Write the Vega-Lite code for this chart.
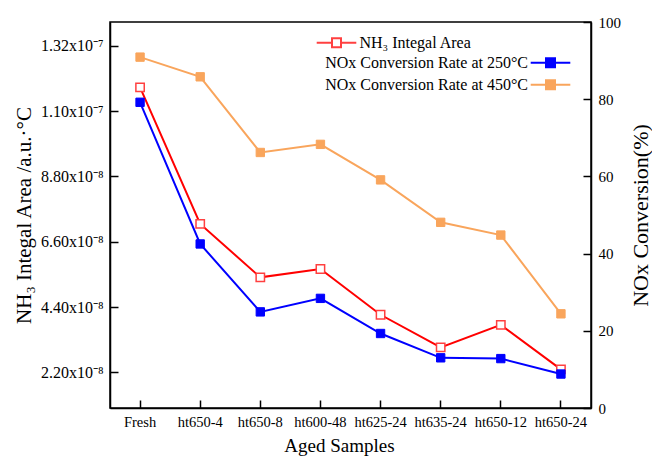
{
  "$schema": "https://vega.github.io/schema/vega-lite/v6.json",
  "width": 481,
  "height": 386,
  "autosize": {"type": "none"},
  "padding": {"left": 110, "top": 22, "right": 61, "bottom": 53},
  "background": "white",
  "config": {
    "font": "Liberation Serif",
    "view": {"stroke": "black", "strokeWidth": 1.5},
    "axis": {
      "domainColor": "black", "domainWidth": 1.5, "tickColor": "black", "tickWidth": 1.5,
      "labelColor": "black", "titleColor": "black", "grid": false,
      "labelFont": "Liberation Serif", "titleFont": "Liberation Serif", "titleFontWeight": "normal"
    },
    "legend": {"labelFont": "Liberation Serif", "labelColor": "black"}
  },
  "data": {
    "values": [
      {"sample": "Fresh", "series": "NH₃ Integal Area", "value": 1.18e-7},
      {"sample": "ht650-4", "series": "NH₃ Integal Area", "value": 7.20e-8},
      {"sample": "ht650-8", "series": "NH₃ Integal Area", "value": 5.40e-8},
      {"sample": "ht600-48", "series": "NH₃ Integal Area", "value": 5.68e-8},
      {"sample": "ht625-24", "series": "NH₃ Integal Area", "value": 4.14e-8},
      {"sample": "ht635-24", "series": "NH₃ Integal Area", "value": 3.04e-8},
      {"sample": "ht650-12", "series": "NH₃ Integal Area", "value": 3.80e-8},
      {"sample": "ht650-24", "series": "NH₃ Integal Area", "value": 2.30e-8},
      {"sample": "Fresh", "series": "NOx Conversion Rate at 250°C", "value": 79.2},
      {"sample": "ht650-4", "series": "NOx Conversion Rate at 250°C", "value": 42.5},
      {"sample": "ht650-8", "series": "NOx Conversion Rate at 250°C", "value": 24.9},
      {"sample": "ht600-48", "series": "NOx Conversion Rate at 250°C", "value": 28.4},
      {"sample": "ht625-24", "series": "NOx Conversion Rate at 250°C", "value": 19.3},
      {"sample": "ht635-24", "series": "NOx Conversion Rate at 250°C", "value": 13.0},
      {"sample": "ht650-12", "series": "NOx Conversion Rate at 250°C", "value": 12.8},
      {"sample": "ht650-24", "series": "NOx Conversion Rate at 250°C", "value": 8.8},
      {"sample": "Fresh", "series": "NOx Conversion Rate at 450°C", "value": 90.9},
      {"sample": "ht650-4", "series": "NOx Conversion Rate at 450°C", "value": 85.8},
      {"sample": "ht650-8", "series": "NOx Conversion Rate at 450°C", "value": 66.2},
      {"sample": "ht600-48", "series": "NOx Conversion Rate at 450°C", "value": 68.3},
      {"sample": "ht625-24", "series": "NOx Conversion Rate at 450°C", "value": 59.1},
      {"sample": "ht635-24", "series": "NOx Conversion Rate at 450°C", "value": 48.1},
      {"sample": "ht650-12", "series": "NOx Conversion Rate at 450°C", "value": 44.8},
      {"sample": "ht650-24", "series": "NOx Conversion Rate at 450°C", "value": 24.4}
    ]
  },
  "resolve": {
    "scale": {"y": "independent", "color": "independent", "stroke": "independent"}
  },
  "layer": [
    {
      "transform": [{"filter": "datum.series === 'NH₃ Integal Area'"}],
      "layer": [
        {
          "mark": {"type": "line", "strokeWidth": 2, "stroke": "#ff0000"},
          "encoding": {
            "x": {
              "field": "sample", "type": "nominal", "bandPosition": 0.5,
              "sort": ["Fresh", "ht650-4", "ht650-8", "ht600-48", "ht625-24", "ht635-24", "ht650-12", "ht650-24"],
              "scale": {"type": "band", "paddingInner": 0, "paddingOuter": 0},
              "axis": {
                "orient": "bottom", "title": "Aged Samples", "titleFontSize": 19, "titlePadding": 8, "titleX": 229,
                "labelAngle": 0, "labelFontSize": 14.5, "labelPadding": 15, "tickSize": -8
              }
            },
            "y": {
              "field": "value", "type": "quantitative",
              "scale": {"domain": [1e-8, 1.4e-7], "nice": false, "zero": false},
              "axis": {
                "orient": "left",
                "values": [2.2e-8, 4.4e-8, 6.6e-8, 8.8e-8, 1.1e-7, 1.32e-7],
                "labelExpr": "datum.value < 1e-7 ? format(datum.value * 1e8, '.2f') + 'x10⁻⁸' : format(datum.value * 1e7, '.2f') + 'x10⁻⁷'",
                "labelOverlap": false,
                "labelFontSize": 16, "labelPadding": 15, "tickSize": -8,
                "title": "NH₃ Integal Area /a.u.·°C", "titleFontSize": 21, "titlePadding": 6
              }
            }
          }
        },
        {
          "mark": {"type": "point", "shape": "square", "filled": true, "fill": "white", "size": 70, "strokeWidth": 1.5, "opacity": 1},
          "encoding": {
            "x": {
              "field": "sample", "type": "nominal", "bandPosition": 0.5,
              "sort": ["Fresh", "ht650-4", "ht650-8", "ht600-48", "ht625-24", "ht635-24", "ht650-12", "ht650-24"],
              "scale": {"type": "band", "paddingInner": 0, "paddingOuter": 0}
            },
            "y": {
              "field": "value", "type": "quantitative",
              "scale": {"domain": [1e-8, 1.4e-7], "nice": false, "zero": false}
            },
            "stroke": {
              "field": "series", "type": "nominal", "scale": {"range": ["#ff4040"]},
              "legend": {
                "title": null, "orient": "none", "legendX": 218.5, "legendY": 12.7, "padding": 0,
                "symbolType": "M-4.4,0H-1M1,0H4.4M-1,-1H1V1H-1Z", "symbolSize": 81, "symbolStrokeWidth": 2,
                "symbolFillColor": "white", "symbolStrokeColor": "#ff0000",
                "labelFontSize": 16, "labelOffset": 15
              }
            }
          }
        }
      ]
    },
    {
      "transform": [{"filter": "datum.series !== 'NH₃ Integal Area'"}],
      "layer": [
        {
          "mark": {"type": "line", "strokeWidth": 2},
          "encoding": {
            "x": {
              "field": "sample", "type": "nominal", "bandPosition": 0.5,
              "sort": ["Fresh", "ht650-4", "ht650-8", "ht600-48", "ht625-24", "ht635-24", "ht650-12", "ht650-24"],
              "scale": {"type": "band", "paddingInner": 0, "paddingOuter": 0}
            },
            "y": {
              "field": "value", "type": "quantitative",
              "scale": {"domain": [0, 100], "nice": false},
              "axis": {
                "orient": "right", "values": [0, 10, 20, 30, 40, 50, 60, 70, 80, 90, 100],
                "labelExpr": "datum.value % 20 === 10 ? '' : datum.label",
                "labelOverlap": false,
                "labelFontSize": 15, "labelPadding": 15,
                "tickSize": {"condition": {"test": "datum.value % 20 === 10", "value": -4}, "value": -8},
                "title": "NOx  Conversion(%)", "titleFontSize": 22, "titlePadding": 32, "titleAngle": 270
              }
            },
            "detail": {"field": "series", "type": "nominal"},
            "stroke": {
              "condition": {"test": "datum.series === 'NOx Conversion Rate at 250°C'", "value": "#0000ff"},
              "value": "#f9a55c"
            }
          }
        },
        {
          "mark": {"type": "point", "shape": "square", "filled": true, "size": 70, "opacity": 1, "strokeWidth": 1},
          "encoding": {
            "x": {
              "field": "sample", "type": "nominal", "bandPosition": 0.5,
              "sort": ["Fresh", "ht650-4", "ht650-8", "ht600-48", "ht625-24", "ht635-24", "ht650-12", "ht650-24"],
              "scale": {"type": "band", "paddingInner": 0, "paddingOuter": 0}
            },
            "y": {
              "field": "value", "type": "quantitative",
              "scale": {"domain": [0, 100], "nice": false}
            },
            "color": {
              "field": "series", "type": "nominal",
              "scale": {"domain": ["NOx Conversion Rate at 250°C", "NOx Conversion Rate at 450°C"], "range": ["#0000ff", "#f9a55c"]},
              "legend": {
                "title": null, "orient": "none", "legendX": 432.5, "legendY": 32.7, "padding": 0, "rowPadding": 4,
                "symbolType": "M-4.4,0H-1M1,0H4.4M-1,-1H1V1H-1Z", "symbolSize": 81, "symbolStrokeWidth": 2,
                "labelFontSize": 16, "labelAlign": "right", "labelOffset": -30.5, "labelLimit": 0
              }
            },
            "stroke": {
              "field": "series", "type": "nominal",
              "scale": {"domain": ["NOx Conversion Rate at 250°C", "NOx Conversion Rate at 450°C"], "range": ["#0000ff", "#f9a55c"]},
              "legend": {
                "title": null, "orient": "none", "legendX": 432.5, "legendY": 32.7, "padding": 0, "rowPadding": 4,
                "symbolType": "M-4.4,0H-1M1,0H4.4M-1,-1H1V1H-1Z", "symbolSize": 81, "symbolStrokeWidth": 2,
                "labelFontSize": 16, "labelAlign": "right", "labelOffset": -30.5, "labelLimit": 0
              }
            }
          }
        }
      ]
    }
  ]
}
